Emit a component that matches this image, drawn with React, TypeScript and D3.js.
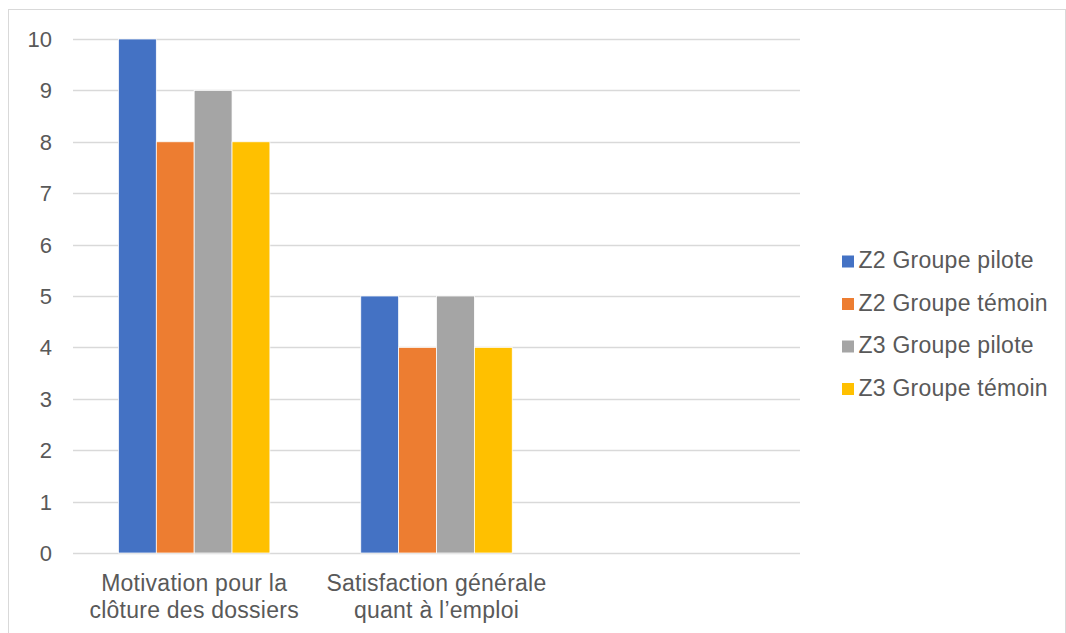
import React from 'react';
import * as d3 from 'd3';

// chart data
const categories = ['Motivation pour la clôture des dossiers', 'Satisfaction générale quant à l’emploi', ''];
const categoryLines = [['Motivation pour la', 'clôture des dossiers'], ['Satisfaction générale', 'quant à l’emploi'], []];
const seriesNames = ['Z2 Groupe pilote', 'Z2 Groupe témoin', 'Z3 Groupe pilote', 'Z3 Groupe témoin'];
const z2Pilote = [10, 5];
const z2Temoin = [8, 4];
const z3Pilote = [9, 5];
const z3Temoin = [8, 4];
const yTicks = [0, 1, 2, 3, 4, 5, 6, 7, 8, 9, 10];
const colors = ['#4472C4', '#ED7D31', '#A5A5A5', '#FFC000'];

const seriesValues = [z2Pilote, z2Temoin, z3Pilote, z3Temoin];

const W = 1066;
const H = 633;
const margin = { left: 73, right: 266, top: 39, bottom: 80 };
const FONT = '"Liberation Sans", Arial, sans-serif';
const TEXT = '#595959';

export default function App() {
    const x0 = d3.scaleBand<string>()
        .domain(categories.map((c, i) => String(i)))
        .range([margin.left, W - margin.right])
        .padding(0);

    const bw = x0.bandwidth();
    const groupW = bw * 0.625;
    const x1 = d3.scaleBand<string>()
        .domain(seriesNames)
        .range([(bw - groupW) / 2, (bw + groupW) / 2])
        .padding(0);

    const y = d3.scaleLinear()
        .domain([0, 10])
        .range([H - margin.bottom, margin.top]);

    return (
        <svg width={W} height={H} style={{ position: 'absolute', left: 0, top: 0, display: 'block' }}
            fontFamily={FONT}>
            <rect x={0} y={0} width={W} height={H} fill="#fff" />
            <rect x={8.5} y={9.5} width={1057} height={700} fill="none" stroke="#D9D9D9" strokeWidth={1} />

            {/* gridlines + y labels */}
            {yTicks.map(t => (
                <g key={t}>
                    <line x1={margin.left} x2={W - margin.right} y1={Math.round(y(t)) + 0.5} y2={Math.round(y(t)) + 0.5}
                        stroke="#D9D9D9" strokeWidth={1.3} />
                    <text x={52} y={y(t)} dy="0.36em" textAnchor="end" fontSize={22} fill={TEXT}>{t}</text>
                </g>
            ))}

            {/* bars */}
            {categories.map((c, ci) => (
                <g key={ci} transform={`translate(${x0(String(ci))},0)`}>
                    {seriesNames.map((s, si) => {
                        const v = seriesValues[si][ci];
                        if (v == null) return null;
                        return (
                            <rect key={s} x={x1(s)} y={y(v)} width={x1.bandwidth()} height={y(0) - y(v)}
                                fill={colors[si]} stroke="#fff" strokeWidth={0.75} />
                        );
                    })}
                    {categoryLines[ci].map((ln, li) => (
                        <text key={li} x={bw / 2} y={591 + li * 27} textAnchor="middle" fontSize={23}
                            letterSpacing={0.25} fill={TEXT}>{ln}</text>
                    ))}
                </g>
            ))}

            {/* legend */}
            {seriesNames.map((s, si) => (
                <g key={s} transform={`translate(842,${268 + si * 42.5})`}>
                    <rect x={0} y={-12.5} width={12} height={12} fill={colors[si]} />
                    <text x={16.5} y={0} fontSize={23} letterSpacing={0.25} fill={TEXT}>{s}</text>
                </g>
            ))}
        </svg>
    );
}
